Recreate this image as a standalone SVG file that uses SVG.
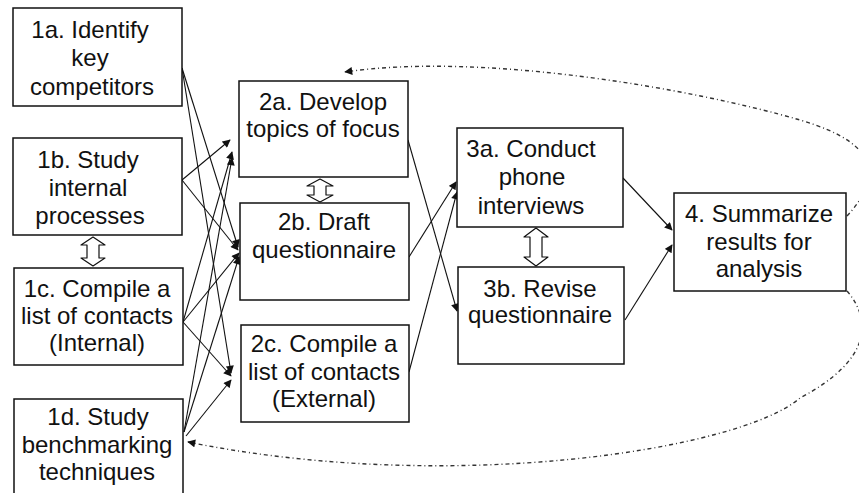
<svg xmlns="http://www.w3.org/2000/svg" width="859" height="493" viewBox="0 0 859 493">
  <defs>
    <style>
      .box { fill: #ffffff; stroke: #111111; stroke-width: 1.5; }
      .lbl { font-family: "Liberation Sans", Arial, sans-serif; font-size: 24px; fill: #111111; text-anchor: middle; }
      .flow { fill: none; stroke: #111111; stroke-width: 1.1; marker-end: url(#tip); }
      .loop { fill: none; stroke: #333333; stroke-width: 1.4; stroke-dasharray: 4 3 1 3; marker-end: url(#tip); }
      .swap { fill: #ffffff; stroke: #111111; stroke-width: 1.2; stroke-linejoin: round; }
    </style>
    <marker id="tip" viewBox="0 0 10 10" refX="9" refY="5" markerWidth="9" markerHeight="8" markerUnits="userSpaceOnUse" orient="auto">
      <path d="M0,0 L10,5 L0,10 z" fill="#111111"/>
    </marker>
  </defs>

  <rect width="859" height="493" fill="#ffffff"/>

  <!-- connectors -->
  <g id="connectors">
    <!-- stage 1 to stage 2 -->
    <line class="flow" x1="182" y1="68" x2="238" y2="247"/>
    <line class="flow" x1="182" y1="68" x2="231" y2="373"/>
    <line class="flow" x1="182" y1="180" x2="230" y2="140"/>
    <line class="flow" x1="182" y1="180" x2="238" y2="250"/>
    <line class="flow" x1="183" y1="322" x2="232" y2="152"/>
    <line class="flow" x1="183" y1="322" x2="239" y2="253"/>
    <line class="flow" x1="183" y1="322" x2="231" y2="376"/>
    <line class="flow" x1="184" y1="432" x2="232" y2="158"/>
    <line class="flow" x1="184" y1="432" x2="239" y2="257"/>
    <line class="flow" x1="186" y1="436" x2="231" y2="380"/>
    <!-- stage 2 to stage 3 -->
    <line class="flow" x1="408" y1="140" x2="457" y2="311"/>
    <line class="flow" x1="409" y1="257" x2="456" y2="182"/>
    <line class="flow" x1="409" y1="372" x2="457" y2="192"/>
    <!-- stage 3 to stage 4 -->
    <line class="flow" x1="623" y1="178" x2="672" y2="230"/>
    <line class="flow" x1="625" y1="320" x2="672" y2="245"/>
    <!-- feedback loops -->
    <path class="loop" d="M847,216 C880,180 885,145 800,120 C690,88 480,52 345,72"/>
    <path class="loop" d="M847,291 C872,320 872,360 800,398 C740,450 450,495 188,442"/>
    <!-- two-way exchanges -->
    <path class="swap" d="M93,237 L105,245 L99,245 L99,258 L105,258 L93,266 L81,258 L87,258 L87,245 L81,245 Z"/>
    <path class="swap" d="M320,179 L333,186 L326,186 L326,195 L333,195 L320,202 L307,195 L314,195 L314,186 L307,186 Z"/>
    <path class="swap" d="M536,228 L548,237 L542,237 L542,257 L548,257 L536,266 L524,257 L530,257 L530,237 L524,237 Z"/>
  </g>

  <g id="n1a">
    <rect class="box" x="13" y="8" width="169" height="98"/>
    <text class="lbl" x="90" y="38">1a. Identify</text>
    <text class="lbl" x="90" y="66">key</text>
    <text class="lbl" x="92" y="95">competitors</text>
  </g>
  <g id="n1b">
    <rect class="box" x="13" y="138" width="169" height="97"/>
    <text class="lbl" x="88" y="168">1b. Study</text>
    <text class="lbl" x="88" y="196">internal</text>
    <text class="lbl" x="90" y="224">processes</text>
  </g>
  <g id="n1c">
    <rect class="box" x="14" y="268" width="169" height="97"/>
    <text class="lbl" x="97" y="297">1c. Compile a</text>
    <text class="lbl" x="97" y="324">list of contacts</text>
    <text class="lbl" x="97" y="351">(Internal)</text>
  </g>
  <g id="n1d">
    <rect class="box" x="14" y="399" width="169" height="100"/>
    <text class="lbl" x="98" y="425">1d. Study</text>
    <text class="lbl" x="97" y="453">benchmarking</text>
    <text class="lbl" x="97" y="480">techniques</text>
  </g>

  <g id="n2a">
    <rect class="box" x="239" y="81" width="169" height="96"/>
    <text class="lbl" x="323" y="110">2a. Develop</text>
    <text class="lbl" x="323" y="137">topics of focus</text>
  </g>
  <g id="n2b">
    <rect class="box" x="240" y="203" width="169" height="97"/>
    <text class="lbl" x="324" y="230">2b. Draft</text>
    <text class="lbl" x="324" y="258">questionnaire</text>
  </g>
  <g id="n2c">
    <rect class="box" x="241" y="325" width="168" height="97"/>
    <text class="lbl" x="324" y="352">2c. Compile a</text>
    <text class="lbl" x="324" y="380">list of contacts</text>
    <text class="lbl" x="324" y="407">(External)</text>
  </g>

  <g id="n3a">
    <rect class="box" x="457" y="128" width="166" height="99"/>
    <text class="lbl" x="531" y="157">3a. Conduct</text>
    <text class="lbl" x="532" y="185">phone</text>
    <text class="lbl" x="531" y="214">interviews</text>
  </g>
  <g id="n3b">
    <rect class="box" x="458" y="267" width="166" height="97"/>
    <text class="lbl" x="540" y="297">3b. Revise</text>
    <text class="lbl" x="540" y="323">questionnaire</text>
  </g>

  <g id="n4">
    <rect class="box" x="674" y="193" width="172" height="98"/>
    <text class="lbl" x="759" y="222">4. Summarize</text>
    <text class="lbl" x="759" y="250">results for</text>
    <text class="lbl" x="759" y="277">analysis</text>
  </g>
</svg>
